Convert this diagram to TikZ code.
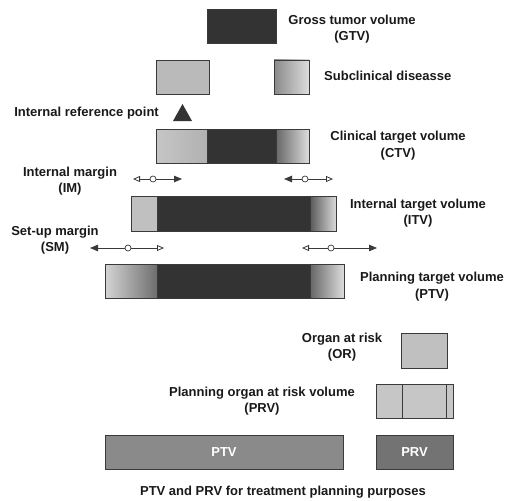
\documentclass[tikz,border=0pt]{standalone}
\usepackage{fontspec}
\setmainfont{Liberation Sans}
\usepackage{tikz}
\usetikzlibrary{arrows.meta}
\definecolor{tumour}{HTML}{333333}
\definecolor{pale}{HTML}{C6C6C6}
\definecolor{mid}{HTML}{8A8A8A}
\definecolor{edge}{HTML}{3A3A3A}

\begin{document}
\begin{tikzpicture}[x=1pt,y=-1pt,
		vol/.style={draw=edge, line width=0.7pt, anchor=north west, inner sep=0pt, outer sep=0pt},
		lbl/.style={font=\fontsize{13}{16.5}\selectfont\bfseries, align=center, inner sep=0pt, text=black!90},
		dot/.style={circle, draw=edge, fill=white, line width=0.7pt, inner sep=0pt, minimum size=6pt},
		marg/.style={draw=edge, line width=0.8pt},
		full/.style={-{Triangle[length=8pt,width=6.5pt]}},
		hollow/.style={-{Triangle[open,length=7pt,width=6pt]}}]
		\useasboundingbox (0,0) rectangle (505,500);
		% GTV
		\node[vol, fill=tumour, minimum width=69pt, minimum height=34pt] (gtv) at (207,9) {};
		\node[lbl] (gtvtxt) at (352,29) {Gross tumor volume\\(GTV)};
		% subclinical disease
		\node[vol, fill=pale!80!mid, minimum width=53pt, minimum height=34pt] (subl) at (156,60) {};
		\node[vol, left color=mid, right color=pale!60!white, minimum width=35pt, minimum height=34pt] (subr) at (274,60) {};
		\node[lbl, anchor=west] (subtxt) at (324,76) {Subclinical diseasse};
		% internal reference point
		\fill[tumour] (173,121) -- (182.5,104) -- (192,121) -- cycle;
		\node[lbl, anchor=east] (irptxt) at (159,113) {Internal reference point};
		% CTV
		\node[vol, left color=pale, right color=pale!65!mid, minimum width=51pt, minimum height=34pt] (ctvl) at (156,129) {};
		\node[vol, fill=tumour, minimum width=69pt, minimum height=34pt] (ctvm) at (207,129) {};
		\node[vol, left color=mid!75!black, right color=pale!60!white, minimum width=33pt, minimum height=34pt] (ctvr) at (276,129) {};
		\node[lbl] (ctvtxt) at (398,145.5) {Clinical target volume\\(CTV)};
		% internal margin
		\node[lbl] (imtxt) at (70,181) {Internal margin\\(IM)};
		\coordinate (imla) at (133,179);
		\coordinate (imlb) at (182,179);
		\coordinate (imra) at (284,179);
		\coordinate (imrb) at (333,179);
		\node[dot] (imlc) at (153,179) {};
		\node[dot] (imrc) at (305,179) {};
		\draw[marg, hollow] (imlc) -- (imla);
		\draw[marg, full] (imlc) -- (imlb);
		\draw[marg, full] (imrc) -- (imra);
		\draw[marg, hollow] (imrc) -- (imrb);
		% ITV
		\node[vol, fill=pale!90!mid, minimum width=26pt, minimum height=35pt] (itvl) at (131,196) {};
		\node[vol, fill=tumour, minimum width=153pt, minimum height=35pt] (itvm) at (157,196) {};
		\node[vol, left color=black!65, right color=pale!65!white, minimum width=26pt, minimum height=35pt] (itvr) at (310,196) {};
		\node[lbl] (itvtxt) at (418,213) {Internal target volume\\(ITV)};
		% set-up margin
		\node[lbl] (smtxt) at (55,240) {Set-up margin\\(SM)};
		\coordinate (smla) at (90,248);
		\coordinate (smlb) at (164,248);
		\coordinate (smra) at (302,248);
		\coordinate (smrb) at (377,248);
		\node[dot] (smlc) at (128,248) {};
		\node[dot] (smrc) at (331,248) {};
		\draw[marg, full] (smlc) -- (smla);
		\draw[marg, hollow] (smlc) -- (smlb);
		\draw[marg, hollow] (smrc) -- (smra);
		\draw[marg, full] (smrc) -- (smrb);
		% PTV
		\node[vol, left color=pale!75!white, right color=mid!80!black, minimum width=52pt, minimum height=34pt] (ptvl) at (105,264) {};
		\node[vol, fill=tumour, minimum width=153pt, minimum height=34pt] (ptvm) at (157,264) {};
		\node[vol, left color=black!60, right color=pale!60!white, minimum width=34pt, minimum height=34pt] (ptvr) at (310,264) {};
		\node[lbl] (ptvtxt) at (432,286.5) {Planning target volume\\(PTV)};
		% organ at risk
		\node[vol, fill=pale!90!mid, minimum width=46pt, minimum height=35pt] (or) at (401,333) {};
		\node[lbl] (ortxt) at (342,347) {Organ at risk\\(OR)};
		% PRV
		\node[vol, fill=pale, minimum width=77pt, minimum height=34pt] (prv) at (376,384) {};
		\draw[edge, line width=0.7pt] ([xshift=26pt]prv.north west) -- ([xshift=26pt]prv.south west);
		\draw[edge, line width=0.7pt] ([xshift=-7pt]prv.north east) -- ([xshift=-7pt]prv.south east);
		\node[lbl] (prvtxt) at (262,401) {Planning organ at risk volume\\(PRV)};
		% planning purposes
		\node[vol, fill=mid, minimum width=238pt, minimum height=34pt, lbl, text=white] (ptvbar) at (105,435) {PTV};
		\node[vol, fill=black!55, minimum width=77pt, minimum height=34pt, lbl, text=white] (prvbar) at (376,435) {PRV};
		\node[lbl] (plantxt) at (283,492) {PTV and PRV for treatment planning purposes};
	\end{tikzpicture}
\end{document}
